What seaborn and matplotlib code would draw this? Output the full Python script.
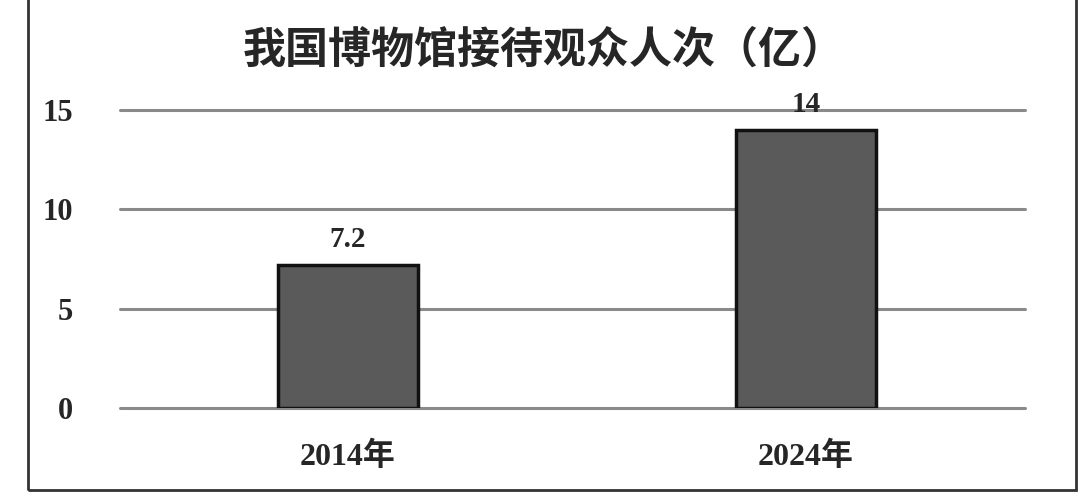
import matplotlib
matplotlib.use("Agg")
import matplotlib.pyplot as plt
import seaborn as sns
import pandas as pd
from matplotlib.patches import Rectangle

categories = ["2014年", "2024年"]
values = [7.2, 14]
value_labels = ["7.2", "14"]
y_ticks = [0, 5, 10, 15]
title = "我国博物馆接待观众人次（亿）"

sns.set_style("white")
plt.rcParams['font.family'] = ['Liberation Serif', 'Noto Sans CJK SC', 'DejaVu Sans']

df = pd.DataFrame({"year": categories, "value": values})

fig = plt.figure(figsize=(10.8, 5.01), dpi=100)
ax = fig.add_axes([0.111, 0.186, 0.838, 0.594])

sns.barplot(data=df, x="year", y="value", ax=ax, color="#5a5a5a",
            edgecolor="#111111", linewidth=2.5, width=0.306, zorder=3)

ax.set_xlim(-0.498, 1.478)
ax.set_ylim(0, 15)
ax.set_yticks(y_ticks)
ax.set_yticklabels([str(t) for t in y_ticks], fontsize=22, fontweight='bold',
                   family=['Liberation Serif'])
ax.set_xticks([0, 1])
ax.set_xticklabels(categories, fontsize=23, fontweight='bold',
                   family=['Liberation Serif', 'Noto Sans CJK SC'])
ax.tick_params(axis='y', pad=34, length=0)
ax.tick_params(axis='x', pad=24, length=0)
ax.set_xlabel("")
ax.set_ylabel("")
for t in y_ticks:
    ax.axhline(t, color="#8a8a8a", linewidth=2.2, zorder=1, clip_on=False)
for s in ax.spines.values():
    s.set_visible(False)

for i, (v, lab) in enumerate(zip(values, value_labels)):
    ax.text(i, v + 0.6, lab, ha='center', va='bottom', fontsize=21,
            fontweight='bold', family=['Liberation Serif'])

fig.text(0.503, 0.9, title, ha='center', va='center', fontsize=31,
         fontweight='bold', family=['Noto Sans CJK SC', 'DejaVu Sans'])

fig.add_artist(Rectangle((0.026, 0.022), 0.97, 1.0, transform=fig.transFigure,
                         fill=False, edgecolor="#333333", linewidth=2))

fig.savefig("out.png", dpi=100)
